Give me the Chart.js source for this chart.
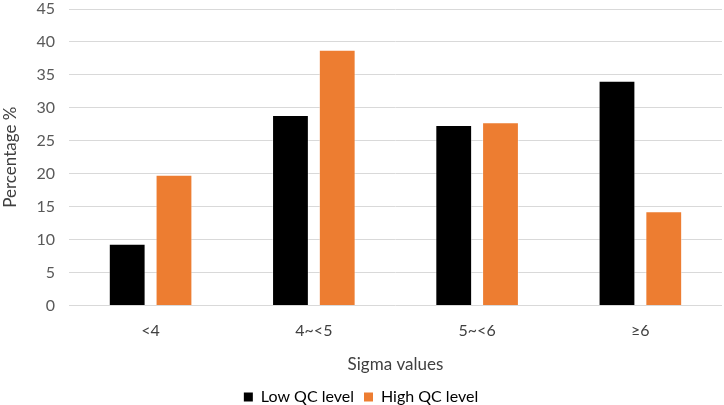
<!DOCTYPE html>
<html>
<head>
<meta charset="utf-8">
<script src="https://cdn.jsdelivr.net/npm/chart.js@4"></script>
<style>
  html, body { margin: 0; padding: 0; background: #fff; }
  #wrap { width: 724px; height: 405px; position: relative; }
</style>
</head>
<body>
<div id="wrap"><canvas id="sigma-chart"></canvas></div>
<script>
// ── Data ──
const categories = ["<4", "4~<5", "5~<6", "≥6"];
const lowQC = [9.35, 28.9, 27.4, 34.1];
const highQC = [19.85, 38.8, 27.8, 14.3];
const yTicks = [0, 5, 10, 15, 20, 25, 30, 35, 40, 45];

// ── Chart.js Defaults ──
Chart.defaults.font.family = "Lato, 'Open Sans', sans-serif";
Chart.defaults.color = "#595959";

const $ = id => document.getElementById(id);

function makeDataset(label, color, data) {
  return {
    label,
    data,
    backgroundColor: color,
    borderColor: "rgba(255,255,255,0.45)",
    borderWidth: 1,
    categoryPercentage: 0.573,
    barPercentage: 0.787,
  };
}

// ── Initialize Chart ──
new Chart($("sigma-chart"), {
  type: "bar",
  data: {
    labels: categories,
    datasets: [
      makeDataset("Low QC level", "#000000", lowQC),
      makeDataset("High QC level", "#ED7D31", highQC),
    ],
  },
  options: {
    responsive: true,
    maintainAspectRatio: false,
    animation: false,
    layout: { padding: { top: 0, right: 2, left: 0, bottom: -10 } },
    plugins: {
      tooltip: { enabled: false },
      legend: {
        position: "bottom",
        labels: {
          boxWidth: 9,
          boxHeight: 9,
          padding: 10,
          color: "#404040",
          font: { size: 16 },
          generateLabels: c => c.data.datasets.map((ds, i) => ({
            text: ds.label,
            fillStyle: ds.backgroundColor,
            strokeStyle: ds.backgroundColor,
            lineWidth: 0,
            datasetIndex: i,
          })),
        },
      },
    },
    scales: {
      x: {
        grid: { display: false, drawTicks: false },
        border: { display: false },
        ticks: { font: { size: 16 }, color: "#404040", padding: 16 },
        title: { display: true, text: "Sigma values", font: { size: 17 }, color: "#404040", padding: { top: -2, bottom: 4 } },
      },
      y: {
        min: 0,
        max: 45,
        afterBuildTicks: axis => { axis.ticks = yTicks.map(v => ({ value: v })); },
        // tick padding would otherwise push the plot top down
        afterFit: axis => { axis.paddingTop = 9; axis.paddingBottom = 0; },
        grid: { color: "#d9d9d9", lineWidth: 1, drawTicks: false },
        border: { display: false },
        ticks: { font: { size: 16 }, color: "#595959", padding: 14 },
        title: { display: true, text: "Percentage %", font: { size: 17 }, color: "#404040", padding: { top: 0, bottom: 2 } },
      },
    },
  },
});
</script>
</body>
</html>
